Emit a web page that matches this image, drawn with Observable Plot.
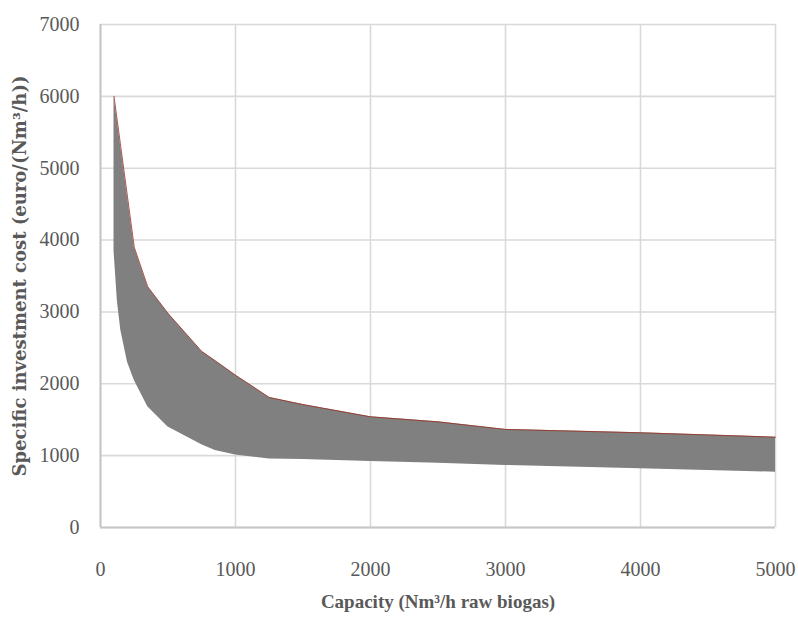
<!DOCTYPE html>
<html><head><meta charset="utf-8">
<script src="https://cdn.jsdelivr.net/npm/d3@7"></script>
<script src="https://cdn.jsdelivr.net/npm/@observablehq/plot@0.6"></script>
<style>body{margin:0;background:#fff}</style>
</head><body><div id="chart"></div>
<script>
const capacity  = [100, 125, 150, 200, 250, 350, 500, 750, 850, 1000, 1250, 1500, 2000, 2500, 3000, 4000, 5000];
const upperCost = [6000, 5650, 5300, 4600, 3900, 3350, 2980, 2450, 2320, 2120, 1810, 1710, 1540, 1470, 1365, 1318, 1257];
const lowerCost = [3850, 3150, 2750, 2300, 2050, 1680, 1400, 1150, 1070, 1010, 955, 945, 920, 895, 863, 817, 770];
const xTicks = [0, 1000, 2000, 3000, 4000, 5000];
const yTicks = [0, 1000, 2000, 3000, 4000, 5000, 6000, 7000];
const xLabel = "Capacity (Nm³/h raw biogas)";
const yLabel = "Specific investment cost (euro/(Nm³/h))";

const data = capacity.map((c, i) => ({capacity: c, upper: upperCost[i], lower: lowerCost[i]}));

const chart = Plot.plot({
  width: 798, height: 634,
  marginLeft: 100, marginRight: 23, marginTop: 24, marginBottom: 107,
  style: {fontFamily: "'Liberation Serif', 'DejaVu Serif', serif", background: "#fff"},
  x: {domain: [0, 5000]},
  y: {domain: [0, 7000]},
  marks: [
    Plot.gridX(xTicks, {stroke: "#d9d9d9", strokeOpacity: 1, strokeWidth: 1.6}),
    Plot.gridY(yTicks, {stroke: "#d9d9d9", strokeOpacity: 1, strokeWidth: 1.6}),
    Plot.areaY(data, {x: "capacity", y1: "lower", y2: "upper", fill: "#808080"}),
    Plot.line(data, {x: "capacity", y: "upper", stroke: "#9b2d20", strokeWidth: 0.8}),
    Plot.ruleX([0], {stroke: "#c6c6c6", strokeWidth: 2}),
    Plot.ruleY([0], {stroke: "#c6c6c6", strokeWidth: 2}),
    Plot.axisX(xTicks, {tickSize: 0, tickPadding: 34, fontSize: 20, fill: "#595959", label: null, tickFormat: d3.format("d")}),
    Plot.axisY(yTicks, {tickSize: 0, tickPadding: 21, fontSize: 20, fill: "#595959", label: null, tickFormat: d3.format("d")}),
    Plot.text([xLabel], {text: d => d, frameAnchor: "bottom", dy: 80, fontSize: 19, fontWeight: "bold", fill: "#595959"}),
    Plot.text([yLabel], {text: d => d, frameAnchor: "left", textAnchor: "middle", dx: -80, rotate: -90, fontSize: 18, fontWeight: "bold", fill: "#595959", fontFamily: "'DejaVu Serif', serif", style: "letter-spacing:2.6px"})
  ]
});
document.getElementById("chart").appendChild(chart);
</script>
</body></html>
